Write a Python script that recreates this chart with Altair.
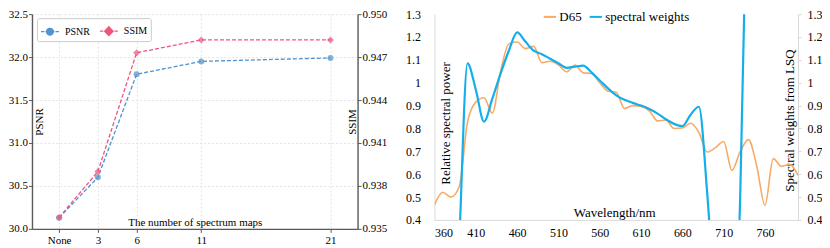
import altair as alt
import pandas as pd

# ---------------- left panel data ----------------
maps = ["None", "3", "6", "11", "21"]
psnr = [30.13, 30.60, 31.80, 31.95, 31.99]
ssim = [0.9358, 0.9390, 0.9473, 0.9482, 0.9482]

# ---------------- right panel data ----------------
wavelength = list(range(360, 801, 10))
d65 = [0.466, 0.521, 0.500, 0.546, 0.828, 0.915, 0.934, 0.867, 1.049, 1.170,
       1.178, 1.149, 1.159, 1.088, 1.094, 1.078, 1.048, 1.077, 1.044, 1.040,
       1.000, 0.963, 0.958, 0.887, 0.900, 0.896, 0.877, 0.833, 0.837, 0.800,
       0.802, 0.823, 0.783, 0.697, 0.716, 0.743, 0.616, 0.699, 0.751, 0.636,
       0.464, 0.668, 0.634, 0.643, 0.595]
weight_nm = list(range(360, 751, 10))
weights = [-1.5, -1.2, -0.6, 0.3, 1.085, 0.97, 0.83, 0.93, 1.04, 1.14,
           1.22, 1.18, 1.14, 1.125, 1.105, 1.085, 1.065, 1.07, 1.075, 1.045,
           1.01, 0.975, 0.945, 0.925, 0.912, 0.9, 0.885, 0.865, 0.84, 0.82,
           0.81, 0.86, 0.895, 0.52, 0.0, -0.4, -0.3, 0.5, 2.2, 3.5]

FONT = "Liberation Serif"
BLUE, BLUE_F = "#4f93cf", "#7fb3e0"
PINK, PINK_F = "#f0557e", "#f58aa8"
ORANGE, SKY = "#f7aa66", "#14aeea"

LW, LH = 326, 215
RW, RH = 364, 206

left_df = pd.DataFrame({
    "x": [0 if m == "None" else int(m) for m in maps],
    "label": maps,
    "PSNR": psnr,
    "SSIM": ssim,
})

grid_kw = dict(gridDash=[2, 2], gridColor="#dcdcdc", gridWidth=0.8)
dark_kw = dict(domainColor="#5a5a5a", domainWidth=1.4, tickColor="#5a5a5a",
               tickSize=3.5, labelColor="black", titleColor="black",
               labelFontSize=11, titleFontSize=11, titleFontWeight="normal",
               labelFont=FONT, titleFont=FONT)

x_left = alt.X(
    "x:Q",
    scale=alt.Scale(domain=[-2.1, 23.1], nice=False, zero=False),
    axis=alt.Axis(values=[0, 3, 6, 11, 21],
                  labelExpr="datum.value == 0 ? 'None' : datum.label",
                  title="The number of spectrum maps",
                  titleX=LW / 2, titleY=-3.5, titleBaseline="alphabetic",
                  labelPadding=2, grid=True, **grid_kw, **dark_kw),
)

circle_path = ("M-1,0H-0.62M-0.5,0H-0.38M0.38,0H0.5M0.62,0H1"
               "M0.38,0A0.38,0.38 0 1,1 -0.38,0A0.38,0.38 0 1,1 0.38,0Z")
diamond_path = ("M-1,0H-0.62M-0.5,0H-0.38M0.38,0H0.5M0.62,0H1"
                "M0,-0.5L0.48,0L0,0.5L-0.48,0Z")

left_legend = alt.Legend(
    orient="none", legendX=5, legendY=4, direction="horizontal", title=None,
    strokeColor="#cccccc", fillColor="white", padding=3, cornerRadius=2,
    symbolSize=324, labelFontSize=10, labelFont=FONT, labelOffset=5,
    columnPadding=6, symbolStrokeWidth=1.2, symbolOpacity=1,
    symbolType={"expr": f"datum.value == 'PSNR' ? '{circle_path}' : '{diamond_path}'"},
    symbolFillColor={"expr": f"datum.value == 'PSNR' ? '{BLUE_F}' : '{PINK_F}'"},
    symbolStrokeColor={"expr": f"datum.value == 'PSNR' ? '{BLUE}' : '{PINK}'"},
)
color_left = alt.Color("metric:N",
                       scale=alt.Scale(domain=["PSNR", "SSIM"], range=[BLUE, PINK]),
                       legend=left_legend)

psnr_layer = alt.Chart(left_df).transform_calculate(metric="'PSNR'").mark_line(
    strokeDash=[4, 2], strokeWidth=1.3,
    point=alt.OverlayMarkDef(filled=True, shape="circle", size=36, opacity=0.7),
).encode(
    x=x_left,
    y=alt.Y("PSNR:Q",
            scale=alt.Scale(domain=[30, 32.5], nice=False, zero=False),
            axis=alt.Axis(values=[30, 30.5, 31, 31.5, 32, 32.5], format=".1f",
                          title="PSNR", titleX=8, titleY=LH / 2, titleAngle=-90,
                          titleBaseline="middle", titleAlign="center",
                          labelPadding=1, grid=True, **grid_kw, **dark_kw)),
    color=color_left,
)

ssim_layer = alt.Chart(left_df).transform_calculate(metric="'SSIM'").mark_line(
    strokeDash=[4, 2], strokeWidth=1.3,
    point=alt.OverlayMarkDef(filled=True, shape="diamond", size=50, opacity=0.7),
).encode(
    x=x_left,
    y=alt.Y("SSIM:Q",
            scale=alt.Scale(domain=[0.935, 0.950], nice=False, zero=False),
            axis=alt.Axis(orient="right",
                          values=[0.935, 0.938, 0.941, 0.944, 0.947, 0.950],
                          format=".3f", title="SSIM", titleX=-5, titleY=LH / 2,
                          titleAngle=-90, titleBaseline="middle", titleAlign="center",
                          labelPadding=1, grid=False, **dark_kw)),
    color=color_left,
)

left = alt.layer(psnr_layer, ssim_layer).resolve_scale(y="independent").properties(
    width=LW, height=LH)

# ---------------- right panel ----------------
d65_df = pd.DataFrame({"nm": wavelength, "v": d65, "curve": "D65"})
w_df = pd.DataFrame({"nm": weight_nm, "v": weights, "curve": "spectral weights"})

light_kw = dict(domainColor="#d9d9d9", domainWidth=1, labelColor="black",
                titleColor="black", labelFontSize=12, titleFontSize=13, grid=False,
                titleFontWeight="normal", labelFont=FONT, titleFont=FONT)

x_right = alt.X(
    "nm:Q",
    scale=alt.Scale(domain=[360, 800], nice=False, zero=False),
    axis=alt.Axis(values=list(range(360, 761, 50)), title="Wavelength/nm",
                  titleX=RW / 2 - 2, titleY=-3, titleBaseline="alphabetic",
                  ticks=False, labelPadding=8, **light_kw),
)
y_ticks = [0.4, 0.5, 0.6, 0.7, 0.8, 0.9, 1.0, 1.1, 1.2, 1.3]
y_scale_r = alt.Scale(domain=[0.4, 1.3], nice=False, zero=False)
label_expr = "'' + round(datum.value * 10) / 10"

right_legend = alt.Legend(
    orient="none", legendX=108, legendY=-5, direction="horizontal", title=None,
    symbolType="stroke", symbolSize=150, symbolStrokeWidth=2, padding=0,
    labelFontSize=13, labelFont=FONT, labelOffset=2, columnPadding=3,
)
color_right = alt.Color("curve:N",
                        scale=alt.Scale(domain=["D65", "spectral weights"],
                                        range=[ORANGE, SKY]),
                        legend=right_legend)

d65_layer = alt.Chart(d65_df).mark_line(
    strokeWidth=1.6, interpolate="monotone", clip=True
).encode(
    x=x_right,
    y=alt.Y("v:Q", scale=y_scale_r,
            axis=alt.Axis(values=y_ticks, labelExpr=label_expr,
                          title="Relative spectral power", titleX=11,
                          titleY=RH / 2 + 6, titleAngle=-90, titleBaseline="middle",
                          titleAlign="center", ticks=False, labelPadding=14,
                          **light_kw)),
    color=color_right,
)

w_layer = alt.Chart(w_df).mark_line(
    strokeWidth=2.2, interpolate="monotone", clip=True
).encode(
    x=x_right,
    y=alt.Y("v:Q", scale=y_scale_r,
            axis=alt.Axis(orient="right", values=y_ticks, labelExpr=label_expr,
                          title="Spectral weights from LSQ", titleX=-9,
                          titleY=RH / 2 + 3, titleAngle=-90, titleBaseline="middle",
                          titleAlign="center", ticks=True, tickSize=3,
                          tickColor="#d9d9d9", labelPadding=6, **light_kw)),
    color=color_right,
)

right = alt.layer(d65_layer, w_layer).resolve_scale(y="independent").properties(
    width=RW, height=RH)

chart = alt.hconcat(left, right, spacing=18, padding=0).resolve_scale(
    color="independent"
).configure(font=FONT).configure_view(
    stroke=None
).configure_axis(
    labelFont=FONT, titleFont=FONT, titleFontWeight="normal"
).configure_legend(
    labelFont=FONT
)

chart.save("out.html", embed_options={"renderer": "svg", "actions": False})
